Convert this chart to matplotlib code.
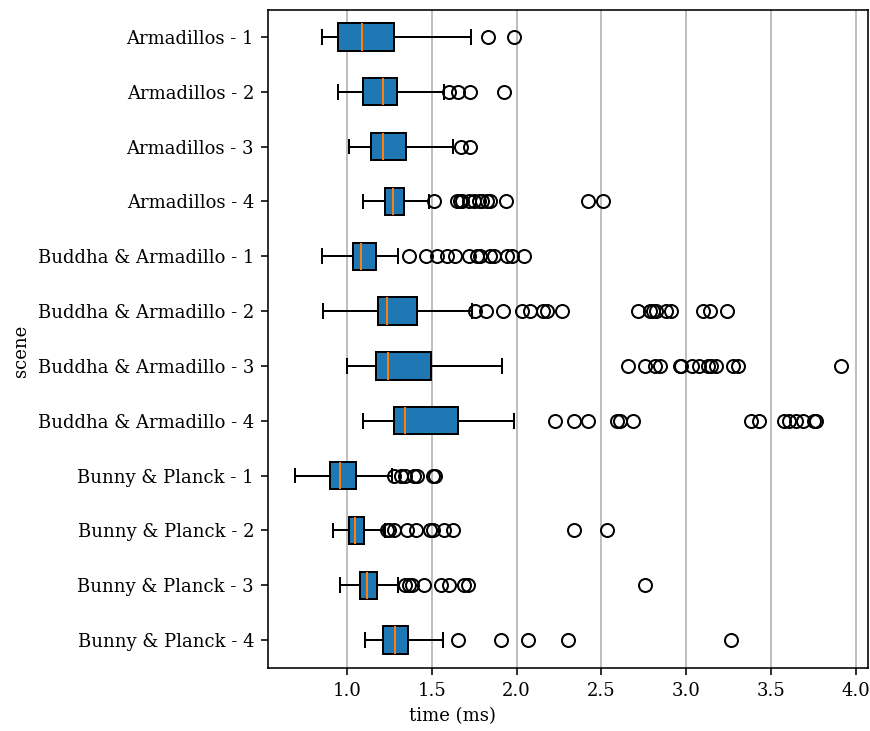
import matplotlib
matplotlib.use("Agg")
import matplotlib.pyplot as plt

plt.rcParams["font.family"] = ["DejaVu Serif"]
plt.rcParams["font.size"] = 9

scenes = [
    "Armadillos - 1", "Armadillos - 2", "Armadillos - 3", "Armadillos - 4",
    "Buddha & Armadillo - 1", "Buddha & Armadillo - 2",
    "Buddha & Armadillo - 3", "Buddha & Armadillo - 4",
    "Bunny & Planck - 1", "Bunny & Planck - 2",
    "Bunny & Planck - 3", "Bunny & Planck - 4",
]

# five-number summaries per scene (ms)
whisker_low = [0.853, 0.947, 1.016, 1.094, 0.853, 0.859, 1.000, 1.098, 0.697, 0.920, 0.961, 1.106]
q1 = [0.949, 1.096, 1.145, 1.223, 1.037, 1.184, 1.170, 1.280, 0.902, 1.016, 1.078, 1.211]
median = [1.088, 1.211, 1.211, 1.274, 1.082, 1.235, 1.241, 1.344, 0.959, 1.047, 1.121, 1.284]
q3 = [1.276, 1.297, 1.350, 1.336, 1.170, 1.413, 1.497, 1.657, 1.055, 1.104, 1.180, 1.362]
whisker_high = [1.730, 1.571, 1.628, 1.485, 1.303, 1.738, 1.914, 1.986, 1.268, 1.223, 1.299, 1.569]

outliers = [
    [1.829, 1.986],
    [1.604, 1.653, 1.726, 1.929],
    [1.675, 1.726],
    [1.515, 1.650, 1.669, 1.679, 1.718, 1.747, 1.777, 1.796, 1.826, 1.845, 1.935, 2.418, 2.510],
    [1.366, 1.464, 1.532, 1.591, 1.640, 1.718, 1.767, 1.786, 1.845, 1.865, 1.943, 1.972, 2.041],
    [1.757, 1.822, 1.923, 2.031, 2.080, 2.158, 2.181, 2.266, 2.716, 2.784, 2.804, 2.823,
     2.878, 2.911, 3.097, 3.140, 3.240],
    [2.655, 2.755, 2.813, 2.847, 2.960, 2.970, 3.035, 3.077, 3.126, 3.146, 3.175, 3.273,
     3.302, 3.909],
    [2.227, 2.340, 2.418, 2.589, 2.608, 2.687, 3.381, 3.430, 3.576, 3.606, 3.645, 3.684,
     3.754, 3.763],
    [1.278, 1.317, 1.346, 1.399, 1.415, 1.509, 1.522],
    [1.235, 1.248, 1.278, 1.352, 1.405, 1.493, 1.509, 1.575, 1.626, 2.338, 2.532],
    [1.346, 1.366, 1.385, 1.454, 1.556, 1.600, 1.692, 1.712, 2.757],
    [1.655, 1.906, 2.066, 2.305, 3.261],
]

stats = [
    dict(label=s, whislo=wl, q1=a, med=m, q3=b, whishi=wh, fliers=f)
    for s, wl, a, m, b, wh, f in zip(scenes, whisker_low, q1, median, q3, whisker_high, outliers)
]

dpi = 144
fig, ax = plt.subplots(figsize=(870 / dpi, 731 / dpi), dpi=dpi)
fig.subplots_adjust(left=268 / 870, right=868 / 870, top=1 - 9.5 / 731, bottom=1 - 667.5 / 731)

bp = ax.bxp(stats, vert=False, patch_artist=True, widths=0.5,
            flierprops=dict(markersize=6.5))
for box in bp["boxes"]:
    box.set_facecolor("#1f77b4")

ax.invert_yaxis()
ax.set_xlabel("time (ms)")
ax.set_ylabel("scene")
# axis titles sit off-centre relative to the plot area
ax.xaxis.label.set_x(0.308)
ax.yaxis.label.set_y(0.481)
ax.xaxis.grid(True)
ax.set_axisbelow(True)

fig.savefig("out.png", dpi=dpi)
